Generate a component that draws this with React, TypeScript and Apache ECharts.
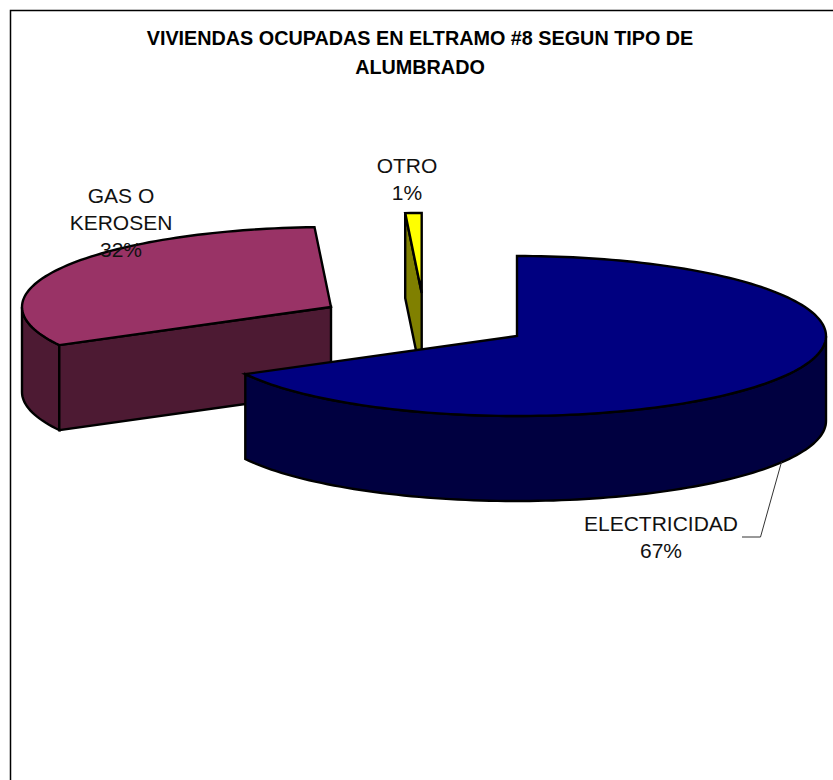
import React, { useEffect, useRef } from "react";
import * as echarts from "echarts";

const titleLines = ["VIVIENDAS OCUPADAS EN ELTRAMO #8 SEGUN TIPO DE", "ALUMBRADO"];
const sliceNames = ["ELECTRICIDAD", "GAS O\nKEROSEN", "OTRO"];
const sliceValues = [67.1, 32.05, 0.85];
const topColors = ["#000080", "#993366", "#FFFF00"];
const sideColors = ["#000040", "#4D1A33", "#808000"];

// layout of the exploded 3D pie
const explodedX = [517, 331, 421.7];
const explodedY = [336, 307, 293];
const labelX = [661, 121, 407];
const labelY = [536.5, 222, 178.5];
const RX = 309;
const RY = 80;
const DEPTH = 85;
const drawOrder = [1, 2, 0];

const total = sliceValues.reduce((a, b) => a + b, 0);
const rad = (d: number) => (d * Math.PI) / 180;

function arc(cx: number, cy: number, a: number, b: number): number[][] {
  const pts: number[][] = [];
  const n = Math.max(2, Math.ceil(Math.abs(b - a) / 1.5));
  for (let k = 0; k <= n; k++) {
    const t = rad(a + ((b - a) * k) / n);
    pts.push([cx + RX * Math.sin(t), cy - RY * Math.cos(t)]);
  }
  return pts;
}

function renderSlice(_: any, api: any) {
  const i = api.value(1) as number;
  const before = sliceValues.slice(0, i).reduce((a, b) => a + b, 0);
  const a = (before / total) * 360;
  const b = ((before + (api.value(0) as number)) / total) * 360;
  const cx = explodedX[i];
  const cy = explodedY[i];
  const lineStyle = { stroke: "#000", lineWidth: 2.4, lineJoin: "miter", miterLimit: 4 };
  const children: any[] = [];
  const poly = (points: number[][], fill: string) =>
    children.push({ type: "polygon", shape: { points }, style: { fill, ...lineStyle } });
  const down = (p: number[][]) => p.map(([x, y]) => [x, y + DEPTH]);

  // outer wall: only the part of the rim turned towards the viewer (90-270 degrees)
  const wa = Math.max(a, 90);
  const wb = Math.min(b, 270);
  if (wb > wa) {
    const rim = arc(cx, cy, wa, wb);
    poly([...rim, ...down(rim).reverse()], sideColors[i]);
  }
  // cut faces
  const face = (ang: number) => {
    const [p] = arc(cx, cy, ang, ang);
    poly([[cx, cy], p, [p[0], p[1] + DEPTH], [cx, cy + DEPTH]], sideColors[i]);
  };
  if (Math.sin(rad(a)) < -1e-6) face(a);
  if (Math.sin(rad(b)) > 1e-6) face(b);
  // top face
  poly([[cx, cy], ...arc(cx, cy, a, b)], topColors[i]);

  return { type: "group", children };
}

export default function App() {
  const ref = useRef<HTMLDivElement>(null);
  useEffect(() => {
    const chart = echarts.init(ref.current!, undefined, { renderer: "svg" });
    const labelFont = { fontFamily: "Liberation Sans", fontSize: 21, fill: "#111", lineHeight: 27, align: "center", verticalAlign: "middle" };
    chart.setOption({
      animation: false,
      backgroundColor: "#fff",
      series: [
        {
          type: "custom",
          coordinateSystem: "none",
          silent: true,
          renderItem: renderSlice,
          data: drawOrder.map((i) => ({ name: sliceNames[i], value: [sliceValues[i], i] })),
        },
      ],
      graphic: [
        { type: "polyline", z: 1, shape: { points: [[10.5, 780], [10.5, 10.5], [833, 10.5]] }, style: { stroke: "#000", lineWidth: 1.5, fill: "none" } },
        { type: "polyline", z: 10, shape: { points: [[781.5, 462], [760.5, 537], [742, 537]] }, style: { stroke: "#333", lineWidth: 1, fill: "none" } },
        ...titleLines.map((t, k) => ({
          type: "text", z: 20, x: 420, y: 38 + k * 29,
          style: { text: t, fontFamily: "Liberation Sans", fontWeight: "bold", fontSize: 19.8, fill: "#000", align: "center", verticalAlign: "middle" },
        })),
        ...sliceNames.map((n, i) => ({
          type: "text", z: 20, x: labelX[i], y: labelY[i],
          style: { text: `${n}\n${Math.round((sliceValues[i] / total) * 100)}%`, ...labelFont },
        })),
      ],
    });
    return () => chart.dispose();
  }, []);
  return <div ref={ref} style={{ position: "absolute", left: 0, top: 0, width: 833, height: 780 }} />;
}
